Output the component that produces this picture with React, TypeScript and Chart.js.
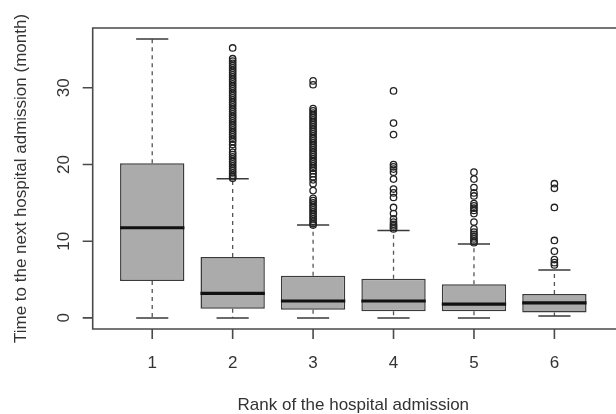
import React, { useEffect, useRef } from "react";
import { Chart, registerables } from "chart.js";

Chart.register(...registerables);

// ---- data ----
const categories = [1, 2, 3, 4, 5, 6];
const xTickLabels = ["1", "2", "3", "4", "5", "6"];
const yTickValues = [0, 10, 20, 30];

const lowerWhisker = [0, 0, 0, 0, 0, 0.25];
const q1 = [4.8, 1.2, 1.05, 0.85, 0.85, 0.7];
const median = [11.75, 3.2, 2.2, 2.2, 1.8, 1.95];
const q3 = [20.15, 7.95, 5.5, 5.1, 4.4, 3.1];
const upperWhisker = [36.35, 18.15, 12.1, 11.4, 9.65, 6.25];

const outliers1: number[] = [];
const outliers2 = [
  35.2, 33.8, 33.5, 33.2, 32.9, 32.6, 32.3, 32.0, 31.7, 31.4, 31.1, 30.8, 30.5,
  30.2, 29.9, 29.6, 29.3, 29.0, 28.7, 28.4, 28.1, 27.8, 27.5, 27.2, 26.9, 26.6,
  26.3, 26.0, 25.7, 25.4, 25.1, 24.8, 24.5, 24.2, 23.9, 23.6, 23.3, 23.0, 22.6,
  22.1, 21.6, 21.3, 21.0, 20.7, 20.4, 20.1, 19.8, 19.5, 19.2, 18.9, 18.6, 18.4,
  18.2,
];
const outliers3 = [
  30.9, 30.4, 27.3, 27.0, 26.7, 26.4, 26.1, 25.8, 25.5, 25.2, 24.9, 24.6, 24.3,
  24.0, 23.7, 23.4, 23.1, 22.8, 22.5, 22.2, 21.9, 21.6, 21.3, 21.0, 20.7, 20.4,
  20.1, 19.8, 19.5, 19.2, 18.8, 18.4, 18.0, 17.5, 16.6, 15.6, 15.3, 15.0, 14.7,
  14.4, 14.1, 13.8, 13.5, 13.2, 12.9, 12.6, 12.3, 12.1,
];
const outliers4 = [
  29.6, 25.4, 23.9, 20.0, 19.7, 19.4, 19.0, 18.1, 16.8, 16.3, 15.7, 14.4, 13.6,
  12.9, 12.5, 12.2, 12.0, 11.8, 11.6,
];
const outliers5 = [
  19.0, 18.1, 17.0, 16.3, 15.9, 14.9, 14.6, 14.3, 14.0, 13.6, 12.5, 11.6, 11.2,
  10.9, 10.6, 10.3, 10.0, 9.8,
];
const outliers6 = [17.5, 16.9, 14.4, 10.1, 8.7, 7.6, 7.2, 6.9];
const outlierLists = [outliers1, outliers2, outliers3, outliers4, outliers5, outliers6];

const xTitle = "Rank of the hospital admission";
const yTitle = "Time to the next hospital admission (month)";

const FONT = "'Liberation Sans', Arial, Helvetica, sans-serif";
const TEXT_COLOR = "#333333";
const LINE_COLOR = "#4a4a4a";

const boxPlotPlugin = {
  id: "boxPlotExtras",
  beforeDatasetsDraw(chart: any) {
    const { ctx, scales } = chart;
    const xs = scales.x;
    const ys = scales.y;
    ctx.save();
    categories.forEach((c, i) => {
      const cx = xs.getPixelForValue(c);
      const capL = xs.getPixelForValue(c - 0.2);
      const capR = xs.getPixelForValue(c + 0.2);
      // dashed whiskers
      ctx.strokeStyle = "#555555";
      ctx.lineWidth = 1.3;
      ctx.setLineDash([4, 4]);
      ctx.beginPath();
      ctx.moveTo(cx, ys.getPixelForValue(q3[i]));
      ctx.lineTo(cx, ys.getPixelForValue(upperWhisker[i]));
      ctx.moveTo(cx, ys.getPixelForValue(q1[i]));
      ctx.lineTo(cx, ys.getPixelForValue(lowerWhisker[i]));
      ctx.stroke();
      // caps
      ctx.setLineDash([]);
      ctx.strokeStyle = "#3a3a3a";
      ctx.lineWidth = 1.5;
      ctx.beginPath();
      const yu = ys.getPixelForValue(upperWhisker[i]);
      const yl = ys.getPixelForValue(lowerWhisker[i]);
      ctx.moveTo(capL, yu);
      ctx.lineTo(capR, yu);
      ctx.moveTo(capL, yl);
      ctx.lineTo(capR, yl);
      ctx.stroke();
    });
    ctx.restore();
  },
  afterDatasetsDraw(chart: any) {
    const { ctx, scales } = chart;
    const xs = scales.x;
    const ys = scales.y;
    ctx.save();
    ctx.strokeStyle = "#111111";
    ctx.lineWidth = 3.2;
    categories.forEach((c, i) => {
      const l = xs.getPixelForValue(c - 0.4);
      const r = xs.getPixelForValue(c + 0.4);
      const y = ys.getPixelForValue(median[i]);
      ctx.beginPath();
      ctx.moveTo(l, y);
      ctx.lineTo(r, y);
      ctx.stroke();
    });
    ctx.restore();
  },
  afterDraw(chart: any) {
    const { ctx, scales, chartArea } = chart;
    const xs = scales.x;
    const ys = scales.y;
    const { left, top, right, bottom } = chartArea;
    ctx.save();
    // frame (right side lies outside the picture)
    ctx.strokeStyle = LINE_COLOR;
    ctx.lineWidth = 1.6;
    ctx.beginPath();
    ctx.moveTo(right + 20, top);
    ctx.lineTo(left, top);
    ctx.lineTo(left, bottom);
    ctx.lineTo(right + 20, bottom);
    ctx.stroke();

    // y axis ticks + labels
    ctx.fillStyle = TEXT_COLOR;
    ctx.font = `17px ${FONT}`;
    ctx.beginPath();
    yTickValues.forEach((v) => {
      const y = ys.getPixelForValue(v);
      ctx.moveTo(left - 10, y);
      ctx.lineTo(left, y);
    });
    ctx.stroke();
    yTickValues.forEach((v) => {
      const y = ys.getPixelForValue(v);
      ctx.save();
      ctx.translate(left - 24, y);
      ctx.rotate(-Math.PI / 2);
      ctx.textAlign = "center";
      ctx.textBaseline = "alphabetic";
      ctx.fillText(String(v), 0, 0);
      ctx.restore();
    });

    // x axis ticks + labels
    ctx.beginPath();
    categories.forEach((c) => {
      const x = xs.getPixelForValue(c);
      ctx.moveTo(x, bottom);
      ctx.lineTo(x, bottom + 10);
    });
    ctx.stroke();
    ctx.textAlign = "center";
    ctx.textBaseline = "alphabetic";
    categories.forEach((c, i) => {
      const x = xs.getPixelForValue(c);
      ctx.fillText(xTickLabels[i], x, bottom + 39);
    });

    // axis titles (centred on the full plot region, incl. off-picture part)
    const plotRight = xs.getPixelForValue(6.74);
    ctx.fillText(xTitle, (left + plotRight) / 2, bottom + 81);
    ctx.save();
    ctx.translate(left - 67, (top + bottom) / 2);
    ctx.rotate(-Math.PI / 2);
    ctx.textAlign = "center";
    ctx.fillText(yTitle, 0, 0);
    ctx.restore();
    ctx.restore();
  },
};

export default function App() {
  const canvasRef = useRef<HTMLCanvasElement | null>(null);

  useEffect(() => {
    if (!canvasRef.current) return;
    const outlierPoints: { x: number; y: number }[] = [];
    outlierLists.forEach((list, i) => {
      list.forEach((v) => outlierPoints.push({ x: categories[i], y: v }));
    });

    const chart = new Chart(canvasRef.current, {
      type: "bar",
      data: {
        datasets: [
          {
            type: "bar",
            data: categories.map((c, i) => ({ x: c, y: [q1[i], q3[i]] })) as any,
            backgroundColor: "#ababab",
            borderColor: "#3a3a3a",
            borderWidth: 1.5,
            borderSkipped: false,
            barPercentage: 0.8,
            categoryPercentage: 1,
          } as any,
          {
            type: "scatter",
            data: outlierPoints,
            pointStyle: "circle",
            pointRadius: 3.2,
            pointBorderWidth: 1.3,
            pointBorderColor: "#222222",
            pointBackgroundColor: "rgba(0,0,0,0)",
          } as any,
        ],
      },
      options: {
        animation: false,
        responsive: false,
        maintainAspectRatio: false,
        layout: { padding: { left: 92.7, top: 28, right: 0, bottom: 85 } },
        plugins: {
          legend: { display: false },
          tooltip: { enabled: false },
        },
        scales: {
          x: {
            type: "linear",
            min: 0.26,
            max: 6.7,
            offset: false,
            display: false,
            ticks: { stepSize: 1, includeBounds: false },
          },
          y: { type: "linear", min: -1.45, max: 37.8, display: false },
        },
      },
      plugins: [boxPlotPlugin],
    });
    return () => chart.destroy();
  }, []);

  return (
    <div style={{ position: "absolute", left: 0, top: 0, width: 616, height: 414, background: "#ffffff" }}>
      <canvas ref={canvasRef} width={616} height={414} style={{ display: "block", width: 616, height: 414 }} />
    </div>
  );
}
